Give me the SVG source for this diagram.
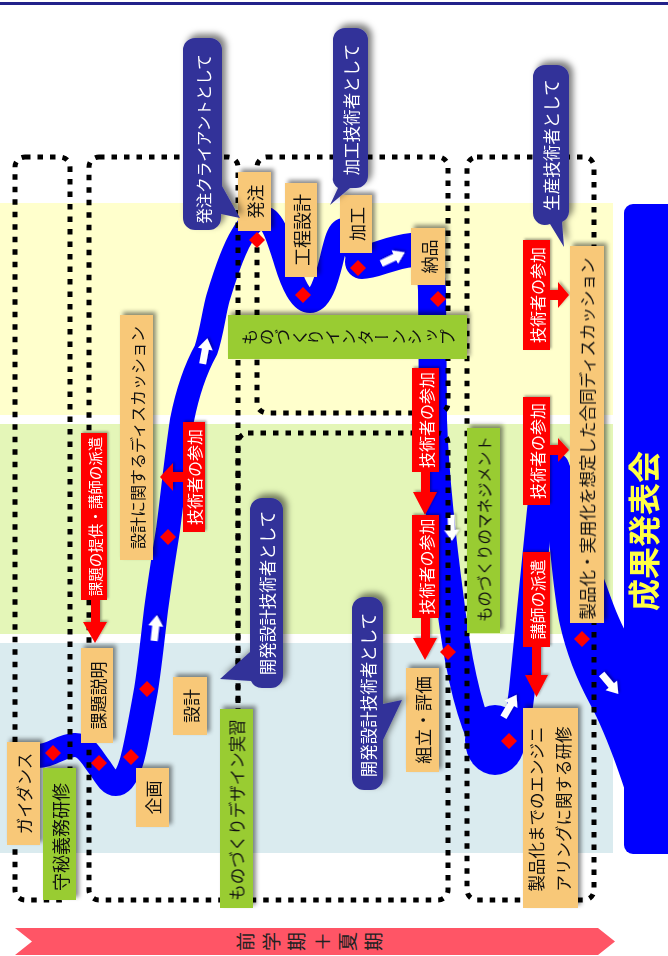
<svg xmlns="http://www.w3.org/2000/svg" width="668" height="956" viewBox="0 0 668 956">
<defs>
<style>
.t{font-family:"Noto Sans CJK JP","Noto Sans",sans-serif;text-anchor:middle;dominant-baseline:central;}
.v{writing-mode:vertical-rl;}
.dot{fill:none;stroke:#000;stroke-width:5;stroke-dasharray:5.5 7;}
.or{fill:#F8C878;}
.gr{fill:#99CC33;}
.rd{fill:#FF0000;}
.bb{fill:#333399;}
.bk{fill:#111;}
.wh{fill:#fff;}
</style>
<filter id="sh" x="-40%" y="-40%" width="180%" height="180%"><feDropShadow dx="3" dy="-3" stdDeviation="2" flood-color="#000" flood-opacity="0.45"/></filter>
<filter id="sh2" x="-40%" y="-40%" width="180%" height="180%"><feDropShadow dx="4" dy="-4" stdDeviation="3" flood-color="#000" flood-opacity="0.5"/></filter>
<filter id="sh3" x="-60%" y="-60%" width="220%" height="220%"><feDropShadow dx="1.5" dy="-1.5" stdDeviation="1" flood-color="#000" flood-opacity="0.35"/></filter>
<polygon id="dm" points="0,-8 8,0 0,8 -8,0" fill="#FF0000"/>
<path id="wa" d="M-13,-3.5 L2,-3.5 L2,-7.5 L13,0 L2,7.5 L2,3.5 L-13,3.5 Z" fill="#fff"/>
</defs>
<rect width="668" height="956" fill="#fff"/>
<rect x="0" y="2" width="668" height="3" fill="#22228a"/>
<g id="bands">
<rect x="0" y="203" width="613" height="212" fill="#FFFFCC"/>
<rect x="0" y="424" width="613" height="210" fill="#E4F6B8"/>
<rect x="0" y="643" width="613" height="210" fill="#DAEBEF"/>
</g>
<g id="connectors">
<g fill="none" stroke="#0000FF" stroke-linecap="round" stroke-linejoin="round">
<path stroke-width="24" d="M36,756 C50,757 60,746 74,745 C86,744 92,758 100,768 C106,777 110,784 116,784 C124,784 130,770 134,752 C138,735 142,712 146,690 C150,665 153,635 156,610 C160,580 164,555 168,530 C172,500 176,460 182,420 C188,390 196,368 206,350 C212,332 214,312 218,298 C224,278 232,252 242,236 C248,226 254,218 263,218 C273,218 279,240 286,262 C293,285 301,301 310,301 C320,301 326,282 331,262 C335,246 338,230 344,230 C351,230 355,258 364,264"/>
<path stroke-width="34" d="M362,262 C375,262 390,252 412,250"/>
<path stroke-width="28" d="M405,250 C425,250 431,262 432,290 L433,420 C435,480 442,540 450,600 C456,650 465,700 480,735 C488,752 496,758 502,756"/>
<path stroke-width="26" d="M500,758 C512,752 518,725 522,690 C527,640 534,570 540,510 C543,480 548,466 556,466"/>
</g>
<ellipse cx="495" cy="740" rx="30" ry="35" fill="#0000FF"/>
<path fill="#0000FF" d="M544,480 C546,465 552,455 560,455 C568,455 572,470 578,492 C586,525 596,558 606,584 C613,604 619,620 628,636 L628,800 C618,768 604,730 590,704 C576,678 566,652 560,625 C554,595 549,540 546,505 Z"/>
<rect x="624" y="204" width="60" height="650" rx="9" fill="#0000FF"/>
<g filter="url(#sh3)">
<use href="#wa" transform="translate(205,351) rotate(-79.5)"/>
<use href="#wa" transform="translate(155.5,628) rotate(-83.7)"/>
<use href="#wa" transform="translate(393,258) rotate(-25.5)"/>
<use href="#wa" transform="translate(451.5,528) rotate(88)"/>
<use href="#wa" transform="translate(510,706) rotate(-59.7)"/>
<use href="#wa" transform="translate(610,684) rotate(50)"/>
</g>
</g>
<g id="frames">
<rect class="dot" x="15" y="157" width="55" height="743" rx="10"/>
<rect class="dot" x="89" y="157" width="149" height="743" rx="10"/>
<rect class="dot" x="257" y="157" width="191" height="256" rx="10"/>
<rect class="dot" x="238" y="433" width="210" height="467" rx="10"/>
<rect class="dot" x="467" y="157" width="127" height="743" rx="10"/>
</g>
<g id="diamonds">
<use href="#dm" x="53" y="753"/>
<use href="#dm" x="99" y="763"/>
<use href="#dm" x="131" y="757"/>
<use href="#dm" x="147" y="689"/>
<use href="#dm" x="168" y="537"/>
<use href="#dm" x="257" y="240"/>
<use href="#dm" x="303" y="295"/>
<use href="#dm" x="358" y="268"/>
<use href="#dm" x="438" y="299"/>
<use href="#dm" x="448" y="652"/>
<use href="#dm" x="509" y="741"/>
<use href="#dm" x="582" y="639"/>
</g>
<g id="red-labels">
<g id="r1" filter="url(#sh3)"><rect class="rd" x="81" y="433" width="26" height="167"/><path class="rd" d="M91,599 H100 V622 H107 L95,643 L83,622 H91 Z"/><text class="t wh" font-size="14.5" transform="translate(94,516.5) rotate(-90)">課題の提供・講師の派遣</text></g>
<g id="r2" filter="url(#sh3)"><rect class="rd" x="183" y="422" width="22" height="110"/><path class="rd" d="M184,472 V482 H173 V491 L160,477 L173,463 V472 Z"/><text class="t wh" font-size="16" transform="translate(194,477) rotate(-90)">技術者の参加</text></g>
<g id="r3" filter="url(#sh3)"><rect class="rd" x="412" y="368" width="27" height="104"/><path class="rd" d="M421,471 H430 V492 H437 L425,515 L413,492 H421 Z"/><text class="t wh" font-size="16" transform="translate(425.5,420) rotate(-90)">技術者の参加</text></g>
<g id="r4" filter="url(#sh3)"><rect class="rd" x="412" y="515" width="27" height="103"/><path class="rd" d="M421,617 H430 V638 H437 L425,660 L413,638 H421 Z"/><text class="t wh" font-size="16" transform="translate(425.5,566.5) rotate(-90)">技術者の参加</text></g>
<g id="r5" filter="url(#sh3)"><rect class="rd" x="523" y="240" width="27" height="110"/><path class="rd" d="M549,290 H558 V282 L569,295 L558,308 V300 H549 Z"/><text class="t wh" font-size="16" transform="translate(536.5,295) rotate(-90)">技術者の参加</text></g>
<g id="r6" filter="url(#sh3)"><rect class="rd" x="523" y="397" width="27" height="108"/><path class="rd" d="M549,445 H558 V438 L569,450 L558,462 V455 H549 Z"/><text class="t wh" font-size="16" transform="translate(536.5,451) rotate(-90)">技術者の参加</text></g>
<g id="r7" filter="url(#sh3)"><rect class="rd" x="523" y="552" width="27" height="95"/><path class="rd" d="M532,646 H541 V675 H548 L536.5,697 L525,675 H532 Z"/><text class="t wh" font-size="16" transform="translate(536.5,599.5) rotate(-90)">講師の派遣</text></g>
</g>
<g id="orange-boxes">
<g id="o1"><rect class="or" filter="url(#sh)" x="7" y="742" width="33" height="103"/><text class="t bk" font-size="16.5" transform="translate(23.5,793.5) rotate(-90)">ガイダンス</text></g>
<g id="o2"><rect class="or" filter="url(#sh)" x="81" y="648" width="32" height="95"/><text class="t bk" font-size="17" transform="translate(97,695.5) rotate(-90)">課題説明</text></g>
<g id="o3"><rect class="or" filter="url(#sh)" x="136" y="768" width="33" height="59"/><text class="t bk" font-size="17" transform="translate(152.5,797.5) rotate(-90)">企画</text></g>
<g id="o4"><rect class="or" filter="url(#sh)" x="173" y="677" width="34" height="58"/><text class="t bk" font-size="17" transform="translate(190,706) rotate(-90)">設計</text></g>
<g id="o5"><rect class="or" filter="url(#sh)" x="120" y="315" width="33" height="245"/><text class="t bk" font-size="16" transform="translate(136.5,437.5) rotate(-90)">設計に関するディスカッション</text></g>
<g id="o6"><rect class="or" filter="url(#sh)" x="238" y="172" width="33" height="59"/><text class="t bk" font-size="17" transform="translate(254.5,201.5) rotate(-90)">発注</text></g>
<g id="o7"><rect class="or" filter="url(#sh)" x="285" y="183" width="32" height="94"/><text class="t bk" font-size="18" transform="translate(301,230) rotate(-90)">工程設計</text></g>
<g id="o8"><rect class="or" filter="url(#sh)" x="340" y="195" width="32" height="58"/><text class="t bk" font-size="17" transform="translate(356,224) rotate(-90)">加工</text></g>
<g id="o9"><rect class="or" filter="url(#sh)" x="411" y="228" width="34" height="57"/><text class="t bk" font-size="17" transform="translate(428,256.5) rotate(-90)">納品</text></g>
<g id="o10"><rect class="or" filter="url(#sh)" x="406" y="668" width="33" height="104"/><text class="t bk" font-size="17.5" transform="translate(422.5,720) rotate(-90)">組立・評価</text></g>
<g id="o11"><rect class="or" filter="url(#sh)" x="523" y="708" width="55" height="200"/><text class="t bk" font-size="16.5" transform="translate(536,809) rotate(-90)">製品化までのエンジニ</text><text class="t bk" font-size="16.5" transform="translate(563,809) rotate(-90)">アリングに関する研修</text></g>
<g id="o12"><rect class="or" filter="url(#sh)" x="570" y="246" width="34" height="377"/><text class="t bk" font-size="16.5" transform="translate(587,438.5) rotate(-90)">製品化・実用化を想定した合同ディスカッション</text></g>
</g>
<g id="green-boxes">
<g id="g1"><rect class="gr" filter="url(#sh)" x="43" y="768" width="33" height="132"/><text class="t bk" font-size="18" transform="translate(59.5,837) rotate(-90)">守秘義務研修</text></g>
<g id="g2"><rect class="gr" filter="url(#sh)" x="220" y="709" width="33" height="199"/><text class="t bk" font-size="16.5" transform="translate(236.5,810) rotate(-90)">ものづくりデザイン実習</text></g>
<g id="g3"><rect class="gr" filter="url(#sh)" x="228" y="315" width="239" height="44"/><text class="t v bk" font-size="16.5" transform="translate(349,337) rotate(-90)">ものづくりインターンシップ</text></g>
<g id="g4"><rect class="gr" filter="url(#sh)" x="467" y="428" width="33" height="205"/><text class="t bk" font-size="15.5" transform="translate(483.5,529) rotate(-90)">ものづくりのマネジメント</text></g>
</g>
<g id="bubbles">
<g id="b1"><path class="bb" filter="url(#sh2)" d="M195,38 H210 A12,12 0 0 1 222,50 V186 L240,218 L221,214 V218 A12,12 0 0 1 209,230 H195 A12,12 0 0 1 183,218 V50 A12,12 0 0 1 195,38 Z"/><text class="t wh" font-size="15.5" transform="translate(202.5,139) rotate(-90)">発注クライアントとして</text></g>
<g id="b2"><path class="bb" filter="url(#sh2)" d="M345,28 H356 A12,12 0 0 1 368,40 V176 A12,12 0 0 1 356,188 H350 L330,205 L338,188 A12,12 0 0 1 333,176 V40 A12,12 0 0 1 345,28 Z"/><text class="t wh" font-size="16.5" transform="translate(350.5,109.5) rotate(-90)">加工技術者として</text></g>
<g id="b3"><path class="bb" filter="url(#sh2)" d="M545,65 H557 A12,12 0 0 1 569,77 V212 A12,12 0 0 1 562,222 L564,247 L550,224 A12,12 0 0 1 533,213 V77 A12,12 0 0 1 545,65 Z"/><text class="t wh" font-size="16.5" transform="translate(551,145) rotate(-90)">生産技術者として</text></g>
<g id="b4"><path class="bb" filter="url(#sh2)" d="M262,498 H271 A12,12 0 0 1 283,510 V676 A12,12 0 0 1 271,688 H262 A12,12 0 0 1 251,681 L220,679 L250,652 V510 A12,12 0 0 1 262,498 Z"/><text class="t wh" font-size="16.5" transform="translate(266.5,593) rotate(-90)">開発設計技術者として</text></g>
<g id="b5"><path class="bb" filter="url(#sh2)" d="M364,597 H371 A12,12 0 0 1 383,609 V704 L402,700 L383,740 V778 A12,12 0 0 1 371,790 H364 A12,12 0 0 1 352,778 V609 A12,12 0 0 1 364,597 Z"/><text class="t wh" font-size="16.5" transform="translate(367.5,695) rotate(-90)">開発設計技術者として</text></g>
</g>
<g id="presentation"><text class="t" font-size="32" font-weight="bold" fill="#FFFF44" transform="translate(642,531) rotate(-90)">成果発表会</text></g>
<g id="period">
<polygon points="15,928 598,928 615,941.5 598,955 15,955 32,941.5" fill="#FF5566"/>
<text class="t v" font-size="19" letter-spacing="6.5" fill="#222" transform="translate(313,941.5) rotate(-90)">前学期＋夏期</text>
</g>
</svg>
